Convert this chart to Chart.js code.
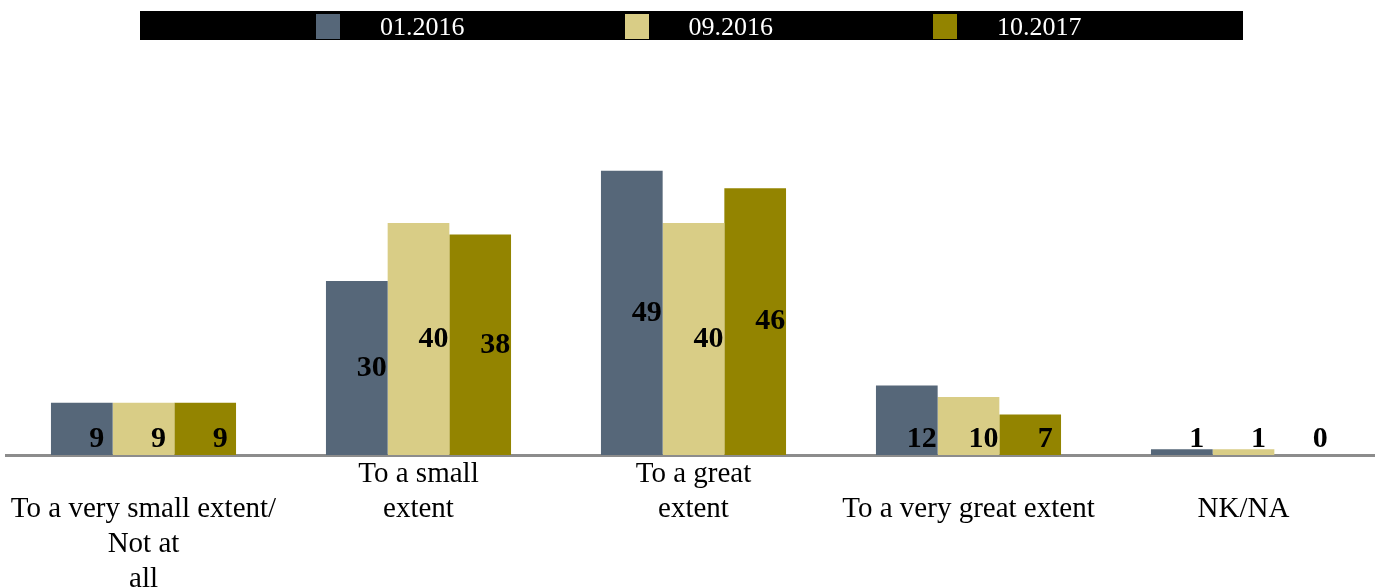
<!DOCTYPE html>
<html>
<head>
<meta charset="utf-8">
<script src="https://cdn.jsdelivr.net/npm/chart.js@4.4.0/dist/chart.umd.min.js"></script>
<style>
  html, body { margin: 0; padding: 0; background: #fff; }
  #wrap { position: relative; width: 1375px; height: 588px; overflow: hidden; }
  #chart { position: absolute; left: 0; top: 0; }
  #legend { position: absolute; left: 140px; top: 11px; width: 1103px; height: 29px; background: #000; }
  #legend .item { position: absolute; top: 3px; height: 25px; display: flex; align-items: center;
                  font-family: "Liberation Serif", serif; font-size: 26px; color: #fff; white-space: nowrap; }
  #legend .sw { width: 24px; height: 25px; margin-right: 40px; }
</style>
</head>
<body>
<div id="wrap">
  <canvas id="chart" width="1381" height="588"></canvas>
  <div id="legend"></div>
</div>
<script>
// Answer categories (multi-line axis labels)
const categories = [
  ["", "To a very small extent/", "Not at", "all"],
  ["To a small", "extent"],
  ["To a great", "extent"],
  ["", "To a very great extent"],
  ["", "NK/NA"]
];
// Survey waves
const seriesNames = ["01.2016", "09.2016", "10.2017"];
const seriesColors = ["#566779", "#d9cd86", "#938400"];
// Percentages per wave
const wave2016Jan = [9, 30, 49, 12, 1];
const wave2016Sep = [9, 40, 40, 10, 1];
const wave2017Oct = [9, 38, 46, 7, 0];
const seriesValues = [wave2016Jan, wave2016Sep, wave2017Oct];

// Bold value labels drawn on each bar
const valueLabels = {
  id: 'valueLabels',
  afterDatasetsDraw(chart) {
    const ctx = chart.ctx;
    ctx.save();
    ctx.font = 'bold 30px "Liberation Serif"';
    ctx.fillStyle = '#000';
    ctx.textAlign = 'center';
    ctx.textBaseline = 'middle';
    chart.data.datasets.forEach((ds, i) => {
      chart.getDatasetMeta(i).data.forEach((bar, j) => {
        const v = ds.data[j];
        const y = v >= 20 ? (bar.y + bar.base) / 2 : bar.base - 16;
        ctx.fillText(String(v), bar.x + 15, y);
      });
    });
    ctx.restore();
  }
};

const chart = new Chart(document.getElementById('chart'), {
  type: 'bar',
  data: {
    labels: categories,
    datasets: seriesNames.map((name, i) => ({
      label: name,
      data: seriesValues[i],
      backgroundColor: seriesColors[i],
      borderWidth: 0,
      categoryPercentage: 0.673,
      barPercentage: 1
    }))
  },
  options: {
    responsive: false,
    animation: false,
    layout: { padding: { left: 6, top: 165, right: 0, bottom: 0 } },
    plugins: { legend: { display: false }, tooltip: { enabled: false } },
    scales: {
      x: {
        grid: { display: false },
        border: { display: true, color: '#8c8c8c', width: 3 },
        ticks: {
          color: '#000',
          padding: -6,
          maxRotation: 0,
          autoSkip: false,
          font: { family: '"Liberation Serif"', size: 29, lineHeight: 35 / 29 }
        },
        afterFit(scale) { scale.height = 133; }
      },
      y: {
        display: false,
        min: 0,
        max: 50
      }
    }
  },
  plugins: [valueLabels]
});

// HTML legend built from the chart's datasets
const legendEl = document.getElementById('legend');
chart.data.datasets.forEach((ds, i) => {
  const item = document.createElement('div');
  item.className = 'item';
  item.style.left = (176 + i * 308.5) + 'px';
  const sw = document.createElement('span');
  sw.className = 'sw';
  sw.style.background = ds.backgroundColor;
  const txt = document.createElement('span');
  txt.textContent = ds.label;
  item.appendChild(sw);
  item.appendChild(txt);
  legendEl.appendChild(item);
});
</script>
</body>
</html>
